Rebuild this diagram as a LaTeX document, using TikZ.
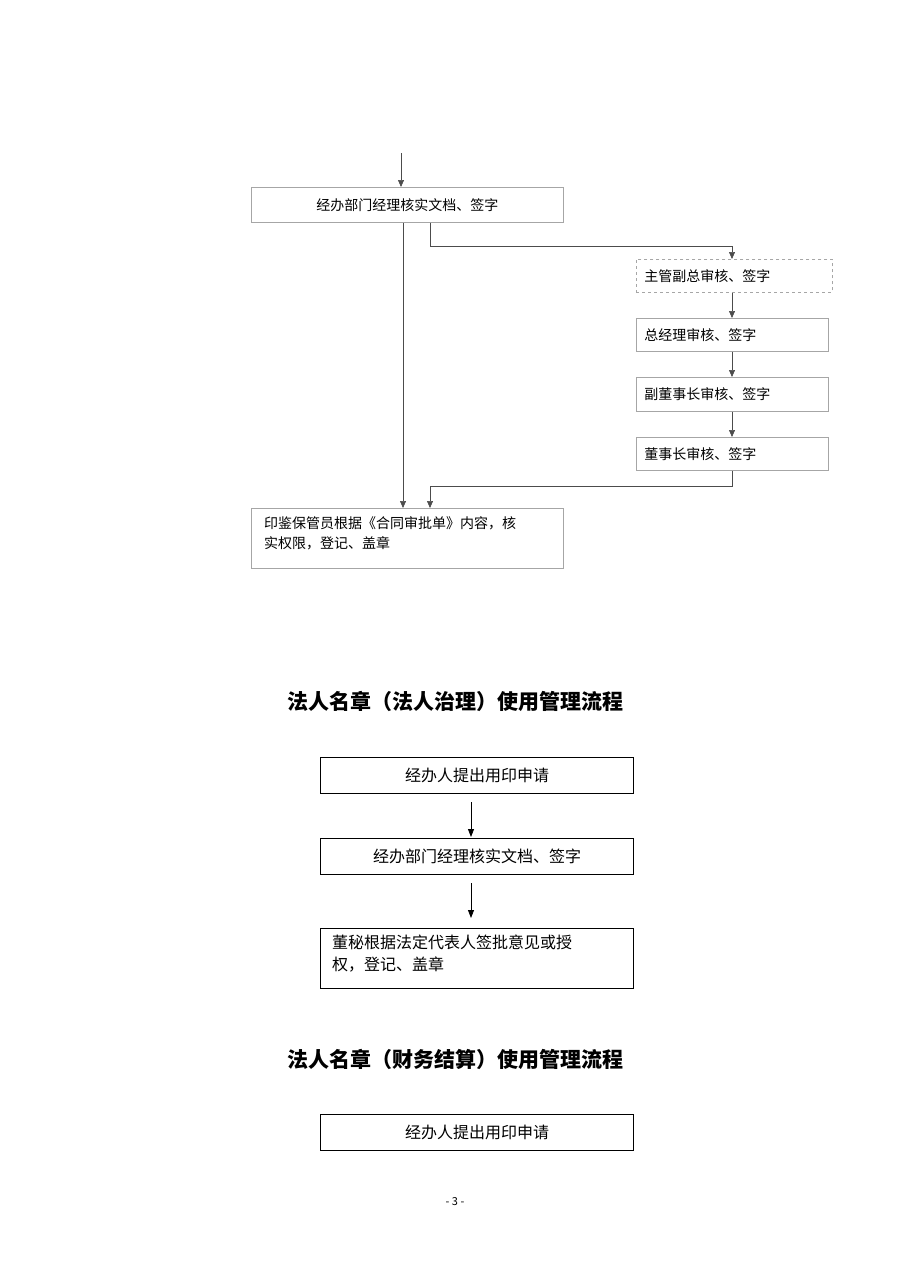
\documentclass[tikz,border=0pt]{standalone}
\usepackage{fontspec}
\setmainfont{Noto Sans CJK SC}
\usetikzlibrary{arrows.meta,positioning}
\tikzset{
  gbox/.style={draw=gray!70, line width=0.6pt, anchor=north west, inner sep=0pt, font=\fontsize{14}{17}\selectfont},
  bbox/.style={draw=black, line width=1.1pt, anchor=north west, inner sep=0pt, font=\fontsize{16}{20}\selectfont},
  garr/.style={draw=gray!60!black, line width=0.6pt, -{Triangle[length=7pt,width=6pt]}},
  barr/.style={draw=black, line width=0.8pt, -{Triangle[length=8pt,width=6pt]}},
  ttl/.style={font=\fontsize{21}{25}\selectfont\bfseries}
}
\begin{document}
\begin{tikzpicture}[x=1pt,y=-1pt]
\useasboundingbox (0,0) rectangle (909,1286);
% upper flow
\coordinate (top) at (401,153);
\node[gbox, minimum width=312pt, minimum height=35pt] (jbjl) at (251,187) {经办部门经理核实文档、签字};
\node[gbox, dashed, minimum width=196pt, minimum height=33pt, align=left, text width=180pt] (zgfz) at (636,259) {主管副总审核、签字};
\node[gbox, minimum width=192pt, minimum height=33pt, align=left, text width=176pt] (zjl) at (636,318) {总经理审核、签字};
\node[gbox, minimum width=192pt, minimum height=34pt, align=left, text width=176pt] (fdsz) at (636,377) {副董事长审核、签字};
\node[gbox, minimum width=192pt, minimum height=33pt, align=left, text width=176pt] (dsz) at (636,437) {董事长审核、签字};
\node[gbox, minimum width=312pt, minimum height=60pt, text width=290pt, align=left, anchor=north west] (yjbg) at (251,508) {};
\node[anchor=north west, text width=300pt, align=left, inner sep=0pt, font=\fontsize{14}{20}\selectfont] (yjtxt) at (264,516) {印鉴保管员根据《合同审批单》内容，核\\实权限，登记、盖章};
\draw[garr] (top) -- (jbjl.north -| top);
\draw[garr] (jbjl.south -| 430,0) -- (430,246) -| (zgfz.north -| 732,0);
\draw[garr] (zgfz.south -| 732,0) -- (zjl.north -| 732,0);
\draw[garr] (zjl.south -| 732,0) -- (fdsz.north -| 732,0);
\draw[garr] (fdsz.south -| 732,0) -- (dsz.north -| 732,0);
\draw[garr] (dsz.south -| 732,0) -- (732,486) -| (yjbg.north -| 430,0);
\draw[garr] (jbjl.south -| 403,0) -- (yjbg.north -| 403,0);
% legal person seal (governance)
\node[ttl] (t1) at (455,701) {法人名章（法人治理）使用管理流程};
\node[bbox, minimum width=313pt, minimum height=36pt] (sq1) at (320,757) {经办人提出用印申请};
\node[bbox, minimum width=313pt, minimum height=36pt] (jb1) at (320,838) {经办部门经理核实文档、签字};
\node[bbox, minimum width=313pt, minimum height=60pt] (dm) at (320,928) {};
\node[anchor=north west, text width=300pt, align=left, inner sep=0pt, font=\fontsize{16}{22}\selectfont] (dmtxt) at (332,935) {董秘根据法定代表人签批意见或授\\权，登记、盖章};
\draw[barr] (471,802) -- (471,837);
\draw[barr] (471,883) -- (471,918);
% legal person seal (finance)
\node[ttl] (t2) at (455,1059) {法人名章（财务结算）使用管理流程};
\node[bbox, minimum width=313pt, minimum height=36pt] (sq2) at (320,1114) {经办人提出用印申请};
\node[font=\fontsize{11}{13}\selectfont] (pg) at (455,1202) {- 3 -};
\end{tikzpicture}
\end{document}
